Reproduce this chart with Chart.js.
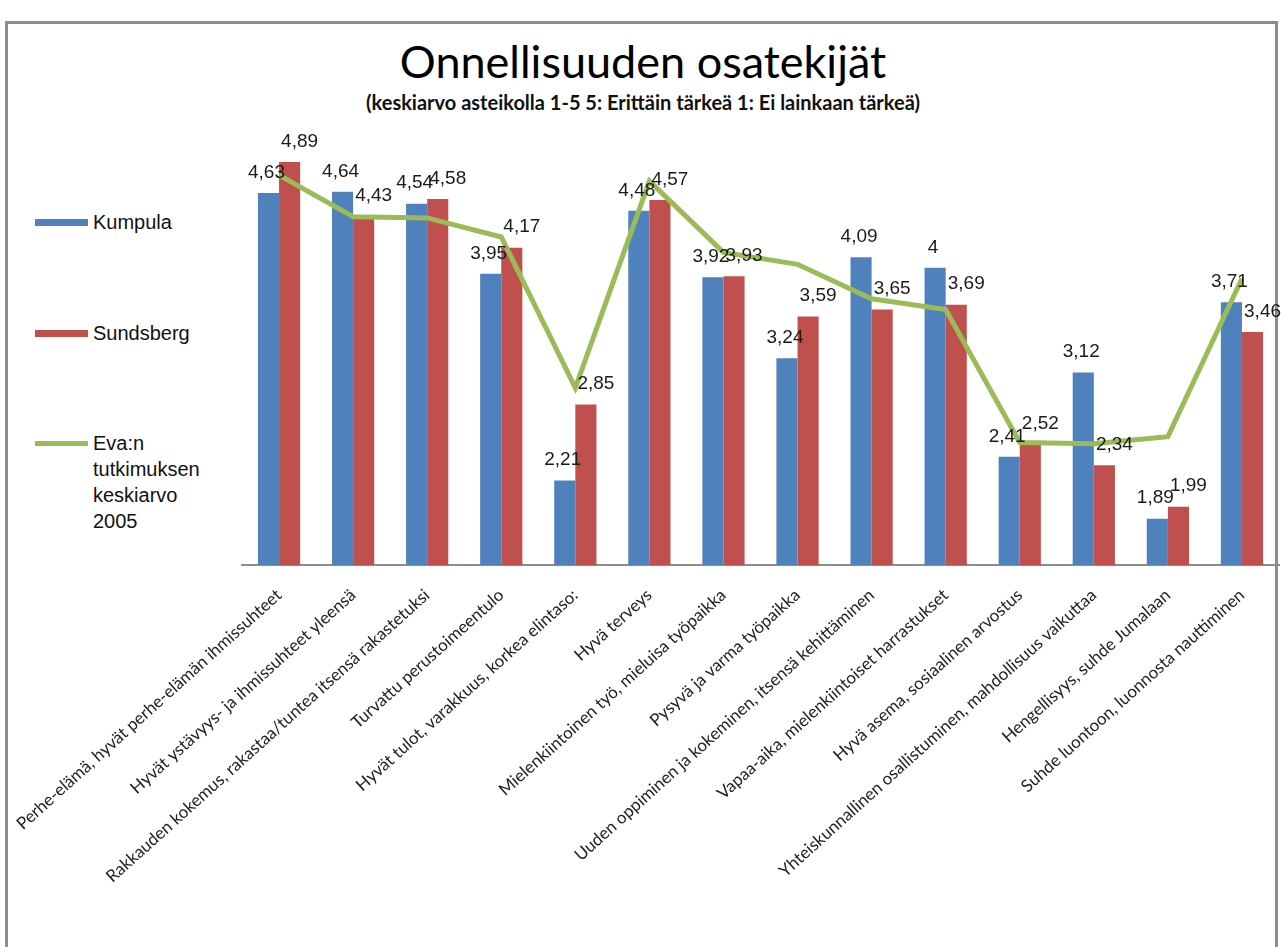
<!DOCTYPE html>
<html>
<head>
<meta charset="utf-8">
<title>Onnellisuuden osatekijät</title>
<script src="https://cdn.jsdelivr.net/npm/chart.js@4.4.0/dist/chart.umd.min.js"></script>
<style>
    body { margin: 0; background: #fff; }
    #frame {
        position: absolute; left: 5px; top: 21px; width: 1267px; height: 940px;
        border: 3px solid #8c8c8c; border-bottom: none;
    }
    #chart { position: absolute; left: 0; top: 0; }
    #title {
        position: absolute; left: 0; width: 1286px; top: 34px; text-align: center;
        font: 45px Lato, "DejaVu Sans Condensed", sans-serif; color: #000;
    }
    #subtitle {
        position: absolute; left: 0; width: 1286px; top: 90px; text-align: center;
        font: bold 20px Lato, "DejaVu Sans Condensed", sans-serif; color: #111;
    }
    .legendItem {
        position: absolute; left: 35px; display: flex; align-items: flex-start;
        font: 20px "Liberation Sans", sans-serif; color: #111; line-height: 26px;
    }
    .legendItem .swatch { width: 53px; margin-right: 5px; }
    .legendItem .text { width: 118px; }
</style>
</head>
<body>
<div id="frame"></div>
<div id="title">Onnellisuuden osatekijät</div>
<div id="subtitle">(keskiarvo asteikolla 1-5 5: Erittäin tärkeä 1: Ei lainkaan tärkeä)</div>
<div id="legend"></div>
<canvas id="chart" width="1286" height="947"></canvas>
<script>
const categories = [
    "Perhe-elämä, hyvät perhe-elämän ihmissuhteet",
    "Hyvät ystävyys- ja ihmissuhteet yleensä",
    "Rakkauden kokemus, rakastaa/tuntea itsensä rakastetuksi",
    "Turvattu perustoimeentulo",
    "Hyvät tulot, varakkuus, korkea elintaso:",
    "Hyvä terveys",
    "Mielenkiintoinen työ, mieluisa työpaikka",
    "Pysyvä ja varma työpaikka",
    "Uuden oppiminen ja kokeminen, itsensä kehittäminen",
    "Vapaa-aika, mielenkiintoiset harrastukset",
    "Hyvä asema, sosiaalinen arvostus",
    "Yhteiskunnallinen osallistuminen, mahdollisuus vaikuttaa",
    "Hengellisyys, suhde Jumalaan",
    "Suhde luontoon, luonnosta nauttiminen"
];
const kumpula = [4.63, 4.64, 4.54, 3.95, 2.21, 4.48, 3.92, 3.24, 4.09, 4, 2.41, 3.12, 1.89, 3.71];
const sundsberg = [4.89, 4.43, 4.58, 4.17, 2.85, 4.57, 3.93, 3.59, 3.65, 3.69, 2.52, 2.34, 1.99, 3.46];
const evaAverage = [4.78, 4.43, 4.42, 4.26, 2.99, 4.73, 4.13, 4.03, 3.74, 3.65, 2.53, 2.52, 2.58, 3.91];

const legendTops = [209, 320, 430];

// value labels above the bars, with a decimal comma
const barLabels = {
    id: "barLabels",
    afterDatasetsDraw(chart) {
        let ctx = chart.ctx;
        ctx.save();
        ctx.font = "19px 'Liberation Sans', sans-serif";
        ctx.fillStyle = "#1a1a1a";
        ctx.textAlign = "center";
        ctx.textBaseline = "bottom";
        chart.data.datasets.forEach((ds, i) => {
            if (ds.type !== "bar") return;
            let shift = ds.label === "Kumpula" ? -2 : 10;
            chart.getDatasetMeta(i).data.forEach((bar, j) => {
                let txt = String(ds.data[j]).replace(".", ",");
                ctx.fillText(txt, bar.x + shift, bar.y - 11);
            });
        });
        ctx.restore();
    }
};

const chart = new Chart(document.getElementById("chart"), {
    data: {
        labels: categories,
        datasets: [
            { type: "line", label: "Eva:n tutkimuksen keskiarvo 2005", data: evaAverage,
              borderColor: "#9bbb59", backgroundColor: "#9bbb59", borderWidth: 5,
              pointRadius: 0, tension: 0, order: 0 },
            { type: "bar", label: "Kumpula", data: kumpula,
              backgroundColor: "#4f81bd", order: 1,
              categoryPercentage: 0.57, barPercentage: 1 },
            { type: "bar", label: "Sundsberg", data: sundsberg,
              backgroundColor: "#c0504d", order: 1,
              categoryPercentage: 0.57, barPercentage: 1 }
        ]
    },
    options: {
        responsive: false,
        animation: false,
        devicePixelRatio: 1,
        layout: { padding: { top: 149, right: 7, bottom: 0, left: 0 } },
        plugins: { legend: { display: false }, tooltip: { enabled: false } },
        scales: {
            x: {
                grid: { display: false, drawTicks: false },
                border: { display: true, color: "#8c8c8c", width: 2 },
                ticks: {
                    minRotation: 42, maxRotation: 42, autoSkip: false, padding: 20,
                    color: "#222", font: { family: "Lato, 'Liberation Sans', sans-serif", size: 17 }
                },
                afterFit(scale) {
                    scale.height = 382;
                    scale.paddingLeft = 0;
                    scale.paddingRight = 0;
                }
            },
            y: {
                min: 1.5, max: 5,
                grid: { display: false },
                border: { display: false },
                ticks: { display: false },
                afterFit(scale) { scale.width = 242; }
            }
        }
    },
    plugins: [barLabels]
});

// legend built from the datasets: bars first, then the line
const legend = document.getElementById("legend");
const legendOrder = [1, 2, 0];
legendOrder.forEach((idx, k) => {
    let ds = chart.data.datasets[idx];
    let item = document.createElement("div");
    item.className = "legendItem";
    item.style.top = legendTops[k] + "px";
    let sw = document.createElement("div");
    sw.className = "swatch";
    let h = ds.type === "line" ? 5 : 7;
    sw.style.height = h + "px";
    sw.style.marginTop = (13 - h / 2) + "px";
    sw.style.background = ds.backgroundColor;
    let tx = document.createElement("div");
    tx.className = "text";
    tx.textContent = ds.label;
    item.appendChild(sw);
    item.appendChild(tx);
    legend.appendChild(item);
});
</script>
</body>
</html>
